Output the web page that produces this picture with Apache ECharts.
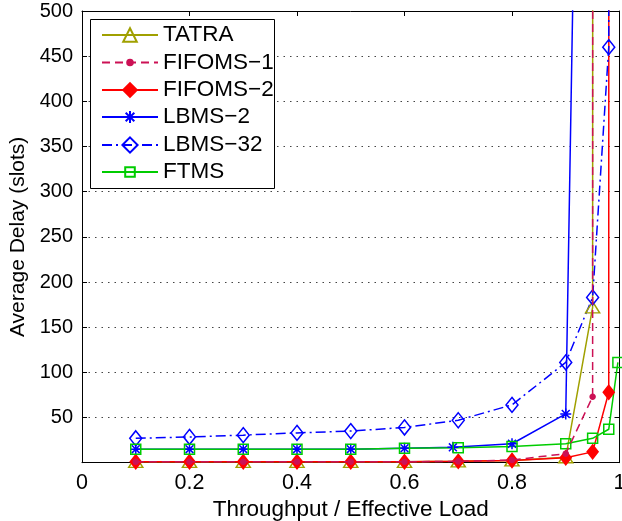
<!DOCTYPE html>
<html><head><meta charset="utf-8">
<script src="https://cdn.jsdelivr.net/npm/echarts@6/dist/echarts.min.js"></script>
<style>html,body{margin:0;padding:0;background:#fff}#c{width:622px;height:521px}</style>
</head><body><div id="c"></div>
<script>
// ---- data ----
const seriesNames = ['TATRA', 'FIFOMS\u22121', 'FIFOMS\u22122', 'LBMS\u22122', 'LBMS\u221232', 'FTMS'];
const tatraX   = [0.1, 0.2, 0.3, 0.4, 0.5, 0.6, 0.7, 0.8, 0.9, 0.95, 0.98];
const tatraY   = [1, 1, 1, 1, 1, 1, 1.5, 2.5, 6, 172, 100000];
const fifoms1X = [0.1, 0.2, 0.3, 0.4, 0.5, 0.6, 0.7, 0.8, 0.9, 0.95, 0.98];
const fifoms1Y = [1, 1, 1, 1, 1, 1, 1.5, 3, 10, 73, 100000];
const fifoms2X = [0.1, 0.2, 0.3, 0.4, 0.5, 0.6, 0.7, 0.8, 0.9, 0.95, 0.98, 1.0];
const fifoms2Y = [1, 1, 1, 1, 1, 1, 1.5, 2.5, 5.5, 12, 78, 100000];
const lbms2X   = [0.1, 0.2, 0.3, 0.4, 0.5, 0.6, 0.69, 0.8, 0.9, 0.95];
const lbms2Y   = [15, 15, 15, 15, 15, 16, 17, 21, 54, 1800];
const lbms32X  = [0.1, 0.2, 0.3, 0.4, 0.5, 0.6, 0.7, 0.8, 0.9, 0.95, 0.98, 1.0];
const lbms32Y  = [27, 28.5, 30.5, 33, 35, 39, 47, 64, 111, 183, 460, 100000];
const ftmsX    = [0.1, 0.2, 0.3, 0.4, 0.5, 0.6, 0.7, 0.8, 0.9, 0.95, 0.98, 0.997];
const ftmsY    = [15, 15, 15, 15, 15, 16, 16.5, 18, 21, 27, 37, 111];
const xTickLabels = ['0', '0.2', '0.4', '0.6', '0.8', '1'];
const yTickLabels = ['', '50', '100', '150', '200', '250', '300', '350', '400', '450', '500'];
const xTitle = 'Throughput / Effective Load';
const yTitle = 'Average Delay (slots)';

// ---- styling ----
const FONT = 'Liberation Sans';
const OLIVE = '#a0a000', CRIMSON = '#cc1155', RED = '#ff0000', BLUE = '#0000ff', GREEN = '#00cc00';
const STAR = 'path://M0,-1L0,1M-1,0L1,0M-0.72,-0.72L0.72,0.72M-0.72,0.72L0.72,-0.72';

function pairs(xs, ys) { return xs.map((x, i) => [x, ys[i]]); }

const specs = [
  { name: seriesNames[0], data: pairs(tatraX, tatraY), color: OLIVE, type: 'solid', symbol: 'triangle', size: [14, 11], fill: 'rgba(0,0,0,0)', legendH: 17 },
  { name: seriesNames[1], data: pairs(fifoms1X, fifoms1Y), color: CRIMSON, type: [8, 5], symbol: 'circle', size: 5, fill: CRIMSON, legendH: 7, z: 4 },
  { name: seriesNames[2], data: pairs(fifoms2X, fifoms2Y), color: RED, type: 'solid', symbol: 'diamond', size: [11, 14], fill: RED, legendH: 17 },
  { name: seriesNames[3], data: pairs(lbms2X, lbms2Y), color: BLUE, type: 'solid', symbol: STAR, size: 11, fill: BLUE, legendH: 15 },
  { name: seriesNames[4], data: pairs(lbms32X, lbms32Y), color: BLUE, type: [10, 4, 2, 4], symbol: 'diamond', size: [12, 15], fill: 'rgba(0,0,0,0)', legendH: 19 },
  { name: seriesNames[5], data: pairs(ftmsX, ftmsY), color: GREEN, type: 'solid', symbol: 'rect', size: 10, fill: 'rgba(0,0,0,0)', legendH: 12 }
];

const legendCy = [35, 62.5, 90, 117, 145, 172];

const series = specs.map(s => ({
  name: s.name, type: 'line', data: s.data, z: s.z || 2,
  symbol: s.symbol, symbolSize: s.size, showSymbol: true, clip: true,
  lineStyle: { color: s.color, width: 1.5, type: s.type },
  itemStyle: { color: s.fill, borderColor: s.color, borderWidth: 1.5 },
  emphasis: { disabled: true }
}));

const legends = specs.map((s, i) => ({
  data: [s.name], orient: 'vertical', left: 101, top: legendCy[i] - 11.5, padding: 0,
  itemWidth: 56, itemHeight: s.legendH, selectedMode: false,
  textStyle: { fontFamily: FONT, fontSize: 22.5, color: '#000' }
}));

const axisCommon = {
  axisLine: { show: true, onZero: false, lineStyle: { color: '#000', width: 1 } },
  axisTick: { show: true, inside: true, length: 5, lineStyle: { color: '#000', width: 1 } }
};

const option = {
  animation: false,
  backgroundColor: '#fff',
  textStyle: { fontFamily: FONT },
  grid: { left: 82, top: 11, width: 537.5, height: 451.7, containLabel: false, outerBoundsMode: 'none' },
  legend: legends,
  graphic: [{
    type: 'rect', z: 3, silent: true,
    shape: { x: 90.5, y: 19.5, width: 184, height: 169 },
    style: { fill: '#fff', stroke: '#000', lineWidth: 1 }
  }],
  xAxis: [
    Object.assign({
      type: 'value', min: 0, max: 1, interval: 0.2, position: 'bottom',
      axisLabel: { fontSize: 21.5, color: '#000', fontFamily: FONT, margin: 9,
        formatter: v => xTickLabels[Math.round(v / 0.2)] },
      splitLine: { show: false },
      name: xTitle, nameLocation: 'middle', nameGap: 29,
      nameTextStyle: { fontSize: 22.5, color: '#000', fontFamily: FONT }
    }, axisCommon),
    Object.assign({
      type: 'value', min: 0, max: 1, interval: 0.2, position: 'top',
      axisLabel: { show: false }, splitLine: { show: false }
    }, axisCommon)
  ],
  yAxis: [
    Object.assign({
      type: 'value', min: 0, max: 500, interval: 50, position: 'left',
      axisLabel: { fontSize: 20, color: '#000', fontFamily: FONT, margin: 9,
        formatter: v => yTickLabels[Math.round(v / 50)] },
      splitLine: { show: true, lineStyle: { color: '#444', width: 1, type: [1.5, 5] } },
      name: yTitle, nameLocation: 'middle', nameGap: 47,
      nameTextStyle: { fontSize: 21, color: '#000', fontFamily: FONT }
    }, axisCommon),
    Object.assign({
      type: 'value', min: 0, max: 500, interval: 50, position: 'right',
      axisLabel: { show: false }, splitLine: { show: false }
    }, axisCommon)
  ],
  series: series
};

const chart = echarts.init(document.getElementById('c'), null, { renderer: 'canvas' });
chart.setOption(option);
</script>
</body></html>
